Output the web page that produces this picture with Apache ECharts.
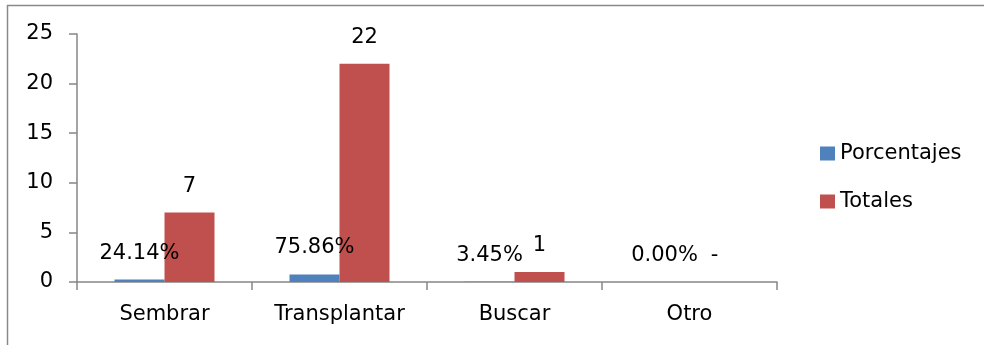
<!DOCTYPE html>
<html>
<head>
<meta charset="utf-8">
<script src="https://cdn.jsdelivr.net/npm/echarts@6/dist/echarts.min.js"></script>
<style>html,body{margin:0;padding:0;background:#fff;}#c{width:984px;height:345px;}</style>
</head>
<body>
<div id="c"></div>
<script>
const categories = ['Sembrar', 'Transplantar', 'Buscar', 'Otro'];
const porcentajes = [0.2414, 0.7586, 0.0345, 0];
const totales = [7, 22, 1, 0];
const yTicks = { min: 0, max: 25, interval: 5 };

const FONT = 'DejaVu Sans';
const FS = 21;
const chart = echarts.init(document.getElementById('c'), null, { renderer: 'canvas' });
chart.setOption({
  animation: false,
  backgroundColor: '#fff',
  textStyle: { fontFamily: FONT, color: '#000' },
  graphic: [{
    type: 'rect', silent: true,
    shape: { x: 7.5, y: 5.5, width: 1100, height: 500 },
    style: { fill: 'none', stroke: '#898989', lineWidth: 1.5 }
  }],
  grid: { left: 77, right: 207, top: 34, bottom: 63, containLabel: false },
  legend: {
    orient: 'vertical', left: 820, top: 143, padding: 0,
    itemWidth: 15, itemHeight: 14, itemGap: 27,
    icon: 'rect',
    textStyle: { fontFamily: FONT, fontSize: FS, color: '#000', lineHeight: 21 },
    data: ['Porcentajes', 'Totales']
  },
  xAxis: {
    type: 'category', data: categories,
    axisLine: { lineStyle: { color: '#868686', width: 1.5 } },
    axisTick: { show: true, length: 8, alignWithLabel: false, lineStyle: { color: '#868686', width: 1.5 } },
    axisLabel: { fontFamily: FONT, fontSize: FS, color: '#000', margin: 22 },
    splitLine: { show: false }
  },
  yAxis: {
    type: 'value', min: yTicks.min, max: yTicks.max, interval: yTicks.interval,
    axisLine: { show: true, lineStyle: { color: '#868686', width: 1.5 } },
    axisTick: { show: true, length: 8, lineStyle: { color: '#868686', width: 1.5 } },
    axisLabel: { fontFamily: FONT, fontSize: FS, color: '#000', margin: 24 },
    splitLine: { show: false }
  },
  series: [{
    name: 'Porcentajes', type: 'bar', data: porcentajes,
    barWidth: 50, barGap: '0%',
    itemStyle: { color: '#4F81BD' },
    label: {
      show: true, position: 'top', distance: 16,
      fontFamily: FONT, fontSize: FS, color: '#000',
      formatter: p => (p.value * 100).toFixed(2) + '%'
    }
  }, {
    name: 'Totales', type: 'bar', data: totales,
    barWidth: 50, barGap: '0%',
    itemStyle: { color: '#C0504D' },
    label: {
      show: true, position: 'top', distance: 16,
      fontFamily: FONT, fontSize: FS, color: '#000',
      formatter: p => p.value === 0 ? '-' : String(p.value)
    }
  }]
});
</script>
</body>
</html>
